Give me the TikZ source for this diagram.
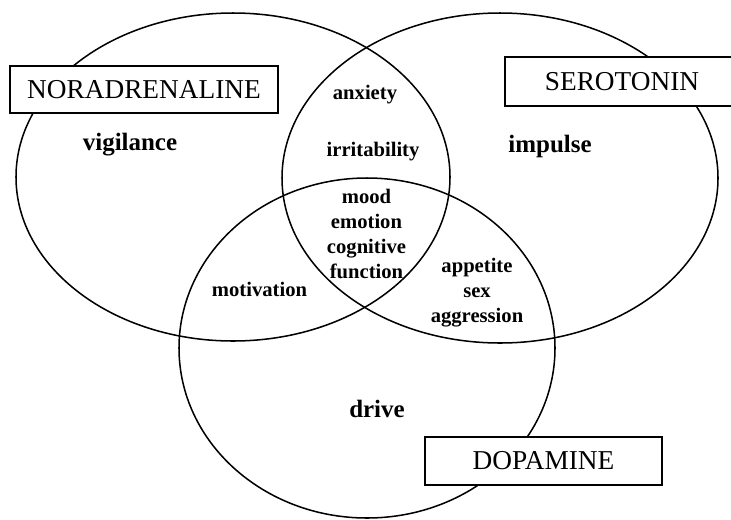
\documentclass[tikz,border=0pt]{standalone}
\usepackage{fontspec}
\setmainfont{Liberation Serif}
\begin{document}
\begin{tikzpicture}[x=0.03cm,y=-0.03cm,line width=1.3pt,
  transmitter/.style={draw,fill=white,inner sep=0pt,font=\fontsize{23.3}{28}\selectfont},
  role/.style={anchor=base,font=\bfseries\fontsize{21.3}{25}\selectfont},
  overlap/.style={anchor=base,align=center,inner sep=0pt,font=\bfseries\fontsize{17.6}{21.3}\selectfont}]
\useasboundingbox(0,0)rectangle(731,519);
\draw(233,177)ellipse[x radius=217,y radius=164];
\draw(500,178)ellipse[x radius=218,y radius=165];
\draw(367,348)ellipse[x radius=188,y radius=170];
\node[transmitter,minimum width=8.04cm,minimum height=1.41cm](nor)at(144,89.5){NORADRENALINE};
\node[transmitter,minimum width=7.02cm,minimum height=1.47cm](ser)at(622,81.5){SEROTONIN};
\node[transmitter,minimum width=7.11cm,minimum height=1.44cm](dop)at(543.5,461){DOPAMINE};
\node[role](vig)at(130,150){vigilance};
\node[role](imp)at(550,152){impulse};
\node[role](drv)at(377,417){drive};
\node[overlap](anx)at(365,99){anxiety};
\node[overlap](irr)at(373,156){irritability};
\node[overlap](mot)at(259.5,296.5){motivation};
% base of a stacked label is its last line
\node[overlap](core)at(366.5,278){mood\\emotion\\cognitive\\function};
\node[overlap](app)at(477,322){appetite\\sex\\aggression};
\end{tikzpicture}
\end{document}
